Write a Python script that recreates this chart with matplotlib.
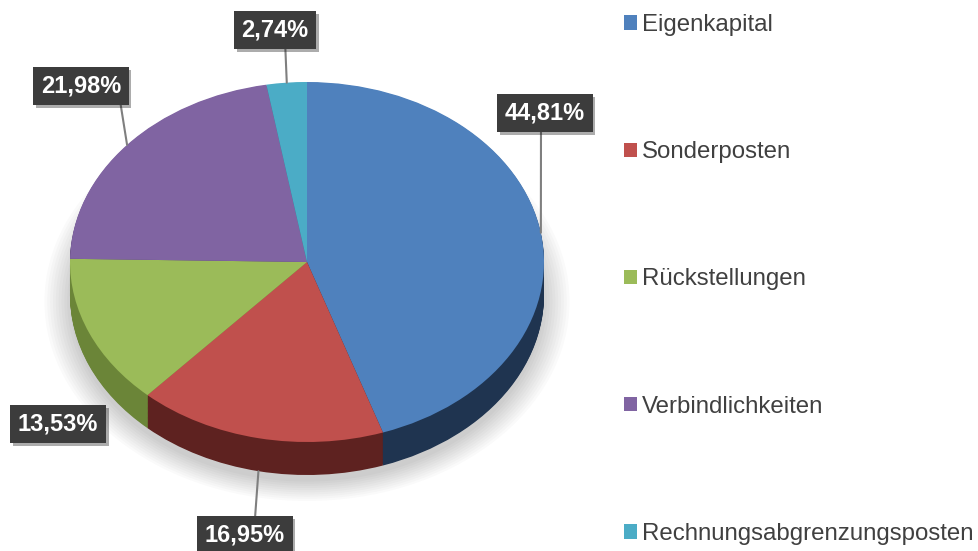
import matplotlib
matplotlib.use("Agg")
import matplotlib.pyplot as plt
import matplotlib.patheffects as pe
import numpy as np

plt.rcParams['font.family'] = ['Liberation Sans', 'DejaVu Sans']

labels = ["Eigenkapital", "Sonderposten", "Rückstellungen",
          "Verbindlichkeiten", "Rechnungsabgrenzungsposten"]
shares = [44.81, 16.95, 13.53, 21.98, 2.74]
value_labels = ["44,81%", "16,95%", "13,53%", "21,98%", "2,74%"]

top_colors = ["#4f81bd", "#c0504d", "#9bbb59", "#8064a2", "#4bacc6"]
side_colors = ["#1f3450", "#5e2220", "#6b8538", "#574370", "#2f7d92"]

# figure is laid out in pixels; the pie is an ellipse in data units
W, H = 979, 551
CX, CY, RX, RY = 307, 262, 237, 180
DEPTH = 33 / RY


def to_data(px, py):
    return (px - CX) / RX, (CY - py) / RY


fig = plt.figure(figsize=(W / 100, H / 100), dpi=100)
ax = fig.add_axes([0, 0, 1, 1])

# soft shadow under the pie
for i in range(10):
    ax.pie([1], radius=1.0 + 0.012 * i, center=(0, -DEPTH * 1.2),
           colors=["#000000"], startangle=90,
           wedgeprops=dict(alpha=0.018, linewidth=0))

# side wall built from stacked layers
for k in np.linspace(DEPTH, 0.004, 40):
    ax.pie(shares, radius=1, center=(0, -k), colors=side_colors,
           startangle=90, counterclock=False,
           wedgeprops=dict(linewidth=0))

wedges, _ = ax.pie(shares, radius=1, colors=top_colors, startangle=90,
                   counterclock=False, wedgeprops=dict(linewidth=0))

# label boxes (pixel centres) and where the leader starts on the box
box_pos = [(545, 113), (245, 535), (58, 424), (81, 86), (275, 30)]
rel_pos = [(0.45, 0.0), (0.62, 1.0), None, (0.98, 0.0), (0.65, 0.0)]

cum = np.cumsum([0] + shares[:-1])
for i, txt in enumerate(value_labels):
    mid = np.deg2rad(90 - (cum[i] + shares[i] / 2) * 3.6)
    ax_x, ax_y = np.cos(mid), np.sin(mid)
    if ax_y < 0:
        ax_y -= DEPTH
    tx, ty = to_data(*box_pos[i])
    arrow = None
    if rel_pos[i] is not None:
        arrow = dict(arrowstyle="-", color="#7f7f7f", lw=1.5,
                     relpos=rel_pos[i], shrinkA=0, shrinkB=0)
    t = ax.annotate(txt, xy=(ax_x, ax_y), xytext=(tx, ty),
                    ha="center", va="center", fontsize=17,
                    fontweight="bold", color="white",
                    bbox=dict(boxstyle="square,pad=0.32", fc="#3c3c3c",
                              ec="none"),
                    arrowprops=arrow, zorder=5)
    t.get_bbox_patch().set_path_effects(
        [pe.SimplePatchShadow(offset=(2, -2), alpha=0.35), pe.Normal()])

leg = ax.legend(wedges, labels, loc="upper left",
                bbox_to_anchor=(624 / W, 1 - 14 / H),
                bbox_transform=fig.transFigure, frameon=False,
                fontsize=17.3, handlelength=0.55, handleheight=0.55,
                handletextpad=0.2, labelspacing=4.38, borderpad=0,
                borderaxespad=0)
for text in leg.get_texts():
    text.set_color("#404040")

ax.set_aspect("auto")
ax.set_xlim(-CX / RX, (W - CX) / RX)
ax.set_ylim((CY - H) / RY, CY / RY)
ax.axis("off")

fig.savefig("out.png", dpi=100)
